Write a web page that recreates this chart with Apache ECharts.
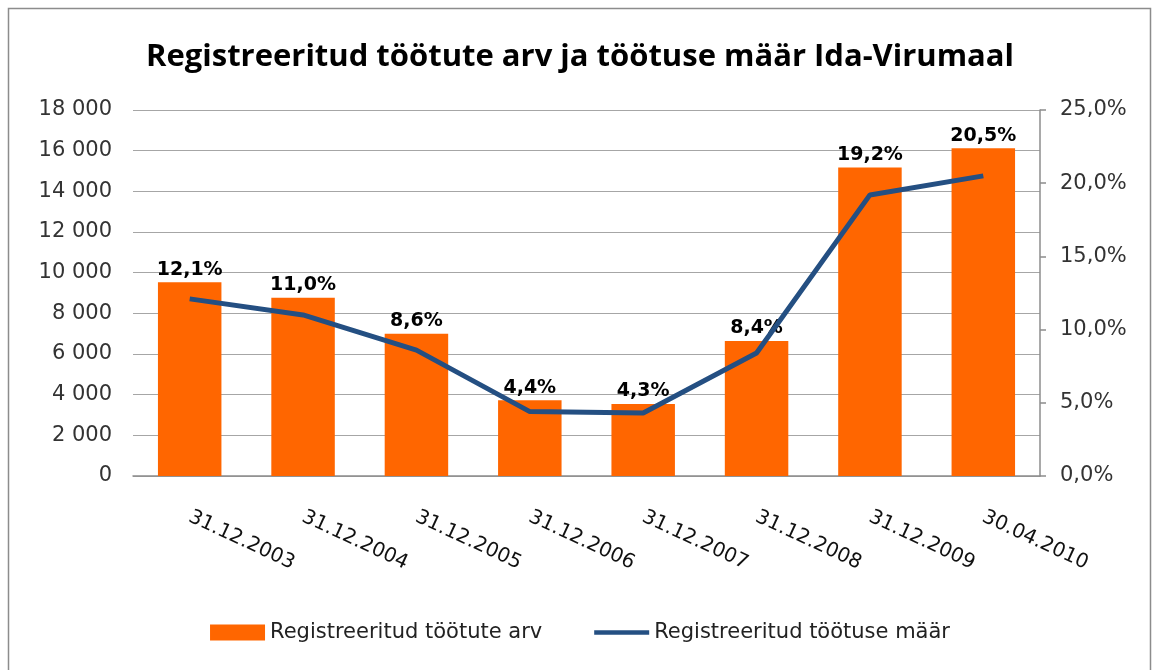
<!DOCTYPE html>
<html>
<head>
<meta charset="utf-8">
<script src="https://cdn.jsdelivr.net/npm/echarts@6/dist/echarts.min.js"></script>
<style>
  html, body { margin: 0; padding: 0; background: #fff; }
  #chart { width: 1160px; height: 670px; }
</style>
</head>
<body>
<div id="chart"></div>
<script>
// kuupäevad
const categories = ["31.12.2003", "31.12.2004", "31.12.2005", "31.12.2006", "31.12.2007", "31.12.2008", "31.12.2009", "30.04.2010"];
// registreeritud töötute arv
const unemployedCount = [9530, 8770, 7000, 3720, 3540, 6640, 15170, 16120];
// töötuse määr, %
const unemploymentRate = [12.1, 11.0, 8.6, 4.4, 4.3, 8.4, 19.2, 20.5];

const seriesNames = ["Registreeritud töötute arv", "Registreeritud töötuse määr"];
const font = "DejaVu Sans";

const pct = (v) => v.toFixed(1).replace(".", ",") + "%";

const chart = echarts.init(document.getElementById("chart"));
chart.setOption({
  animation: false,
  textStyle: { fontFamily: font },
  title: {
    text: "Registreeritud töötute arv ja töötuse määr Ida-Virumaal",
    left: "center",
    top: 37,
    textStyle: { fontSize: 31, fontWeight: "bold", color: "#000", fontFamily: "Open Sans" },
  },
  graphic: [
    {
      type: "rect",
      shape: { x: 8.5, y: 8.5, width: 1142, height: 680 },
      style: { fill: "none", stroke: "#8c8c8c", lineWidth: 1.5 },
    },
  ],
  grid: { left: 133, right: 120, top: 110, bottom: 194 },
  legend: {
    bottom: 22,
    left: "center",
    itemGap: 52,
    itemWidth: 55,
    itemHeight: 16,
    textStyle: { fontSize: 21, color: "#222", fontFamily: font },
    data: [
      { name: seriesNames[0], icon: "rect" },
      { name: seriesNames[1], icon: "path://M0,0 L60,0 L60,5 L0,5 Z" },
    ],
  },
  xAxis: {
    type: "category",
    data: categories,
    axisLine: { lineStyle: { color: "#8c8c8c", width: 1.5 } },
    axisTick: { show: false },
    axisLabel: { rotate: -25, fontSize: 20, color: "#111", margin: 40 },
  },
  yAxis: [
    {
      type: "value",
      min: 0,
      max: 18000,
      interval: 2000,
      axisLine: { show: false },
      axisTick: { show: false },
      splitLine: { lineStyle: { color: "#a6a6a6", width: 1.2 } },
      axisLabel: {
        fontSize: 21,
        color: "#333",
        margin: 21,
        formatter: (v) => (v >= 1000 ? Math.floor(v / 1000) + " " + String(v % 1000).padStart(3, "0") : String(v)),
      },
    },
    {
      type: "value",
      min: 0,
      max: 25,
      interval: 5,
      axisLine: { show: true, lineStyle: { color: "#8c8c8c", width: 1.5 } },
      axisTick: { show: true, length: 6, lineStyle: { color: "#8c8c8c", width: 1.5 } },
      splitLine: { show: false },
      axisLabel: {
        fontSize: 21,
        color: "#333",
        margin: 20,
        formatter: pct,
      },
    },
  ],
  series: [
    {
      name: seriesNames[0],
      type: "bar",
      yAxisIndex: 0,
      barWidth: "56%",
      itemStyle: { color: "#ff6600" },
      data: unemployedCount,
      label: {
        show: true,
        position: "top",
        distance: 3,
        fontSize: 19,
        fontWeight: "bold",
        color: "#000",
        formatter: (p) => pct(unemploymentRate[p.dataIndex]),
      },
      z: 2,
    },
    {
      name: seriesNames[1],
      type: "line",
      yAxisIndex: 1,
      data: unemploymentRate,
      showSymbol: false,
      symbol: "none",
      lineStyle: { color: "#244f82", width: 5 },
      itemStyle: { color: "#244f82" },
      z: 3,
    },
  ],
});
</script>
</body>
</html>
